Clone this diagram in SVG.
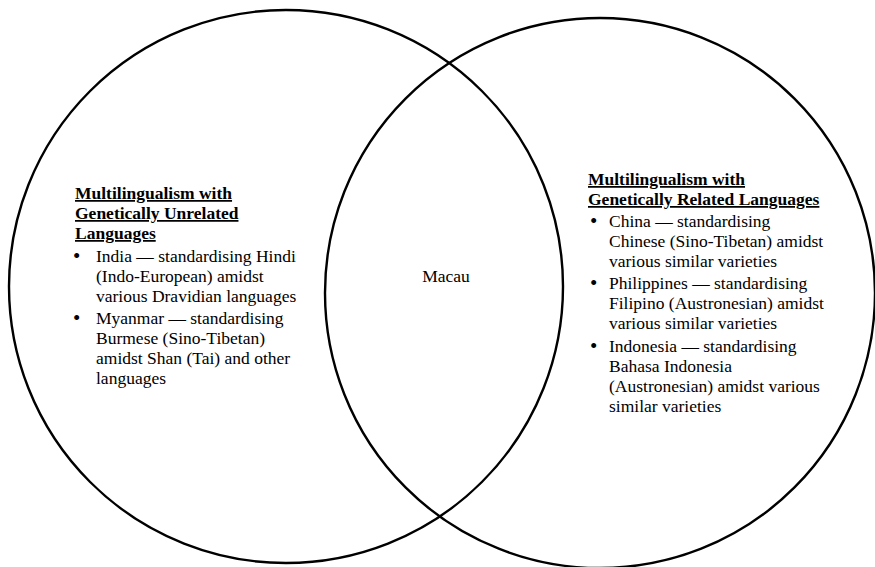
<svg xmlns="http://www.w3.org/2000/svg" width="875" height="567" viewBox="0 0 875 567">
<style>
.c{fill:none;stroke:#000;stroke-width:2.4}
text{font-family:"Liberation Serif","Times New Roman",serif;font-size:17.5px;fill:#000}
.h{font-weight:bold;text-decoration:underline}
.b{font-size:21px}
</style>
<rect width="875" height="567" fill="#fff"/>
<g id="left-set">
<ellipse class="c" cx="286" cy="286.5" rx="277" ry="276.5"/>
<text class="h" x="75" y="199">Multilingualism with</text>
<text class="h" x="75" y="219">Genetically Unrelated</text>
<text class="h" x="75" y="239">Languages</text>
<text class="b" x="73" y="263">•</text>
<text x="96" y="262">India — standardising Hindi</text>
<text x="96" y="282">(Indo-European) amidst</text>
<text x="96" y="302">various Dravidian languages</text>
<text class="b" x="73" y="325">•</text>
<text x="96" y="324">Myanmar — standardising</text>
<text x="96" y="344">Burmese (Sino-Tibetan)</text>
<text x="96" y="364">amidst Shan (Tai) and other</text>
<text x="96" y="384">languages</text>
</g>
<g id="right-set">
<ellipse class="c" cx="600" cy="293" rx="275" ry="275"/>
<text class="h" x="588" y="185">Multilingualism with</text>
<text class="h" x="588" y="205">Genetically Related Languages</text>
<text class="b" x="590" y="228">•</text>
<text x="609" y="227">China — standardising</text>
<text x="609" y="247">Chinese (Sino-Tibetan) amidst</text>
<text x="609" y="267">various similar varieties</text>
<text class="b" x="590" y="290">•</text>
<text x="609" y="289">Philippines — standardising</text>
<text x="609" y="309">Filipino (Austronesian) amidst</text>
<text x="609" y="329">various similar varieties</text>
<text class="b" x="590" y="353">•</text>
<text x="609" y="352">Indonesia — standardising</text>
<text x="609" y="372">Bahasa Indonesia</text>
<text x="609" y="392">(Austronesian) amidst various</text>
<text x="609" y="412">similar varieties</text>
</g>
<g id="intersection">
<text x="446" y="282" text-anchor="middle">Macau</text>
</g>
<g id="connectors"></g>
</svg>
